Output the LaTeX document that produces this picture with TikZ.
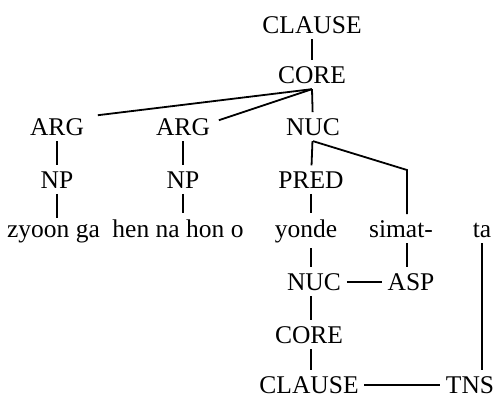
\documentclass[tikz,border=0pt]{standalone}
\usepackage{fontspec}
\setmainfont{Liberation Serif}
\begin{document}
\begin{tikzpicture}[x=0.5pt, y=-0.5pt, line width=0.9pt,
  every node/.style={anchor=base, inner sep=2.5pt, font=\fontsize{12.75}{15}\selectfont}]
  \useasboundingbox (0,0) rectangle (497,396);

  \draw[]
   (312,33) node(clause) {CLAUSE}
   (312,83) node(core) {CORE}
   (57,135) node(argA) {ARG}
   (183,135) node(argB) {ARG}
   (313,135) node(nuc) {NUC}
   (57,188) node(npA) {NP}
   (183,188) node(npB) {NP}
   (311,188) node(pred) {PRED}
   (53.5,237) node(zyoon) {zyoon ga}
   (178,237) node(hen) {hen na hon o}
   (306,237) node(yonde) {yonde}
   (401,237) node(simat) {simat-}
   (482,237) node(ta) {ta}
   (314,290) node(nucB) {NUC}
   (411,290) node(asp) {ASP}
   (309,343) node(coreB) {CORE}
   (309,393) node(clauseB) {CLAUSE}
   (470,393) node(tns) {TNS};
  \coordinate (bend) at (407,170);

  \draw[]
   (clause) edge (core)
   (core.south) edge ([shift={(8,3)}]argA.north east)
   (core.south) edge ([shift={(3,8)}]argB.north east)
   (core.south) edge (nuc)
   (argA) edge (npA)
   (argB) edge (npB)
   (nuc) edge (pred)
   (nucB) edge (asp)
   (clauseB) edge (tns);

  %words and the operator lines
  \draw (nuc.south) -- (bend) -- (bend |- simat.north);
  \draw (npA.south) -- (npA.south |- zyoon.north);
  \draw (npB.south) -- (npB.south |- hen.north);
  \draw (pred.south) -- (pred.south |- yonde.north);
  \draw (yonde.south -| pred) -- (pred |- nucB.north);
  \draw (simat.south -| bend) -- (bend |- asp.north);
  \draw (ta.south) -- (ta.south |- tns.north);
  \draw (nucB.south -| pred) -- (pred |- coreB.north);
  \draw (coreB.south -| pred) -- (pred |- clauseB.north);
\end{tikzpicture}
\end{document}
